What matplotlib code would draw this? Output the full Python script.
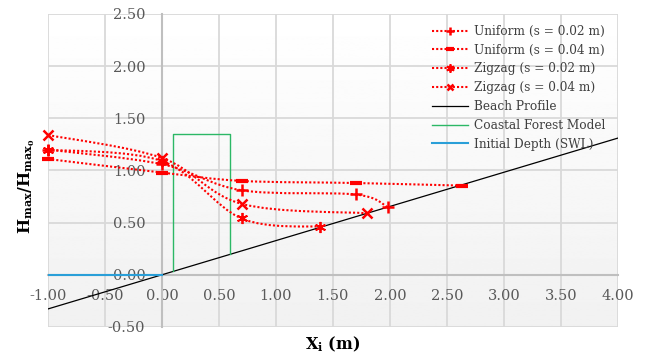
import numpy as np
import matplotlib
matplotlib.use("Agg")
import matplotlib.pyplot as plt
from matplotlib.path import Path
from matplotlib.patches import PathPatch
from matplotlib.lines import Line2D

plt.rcParams['font.family'] = ['DejaVu Serif']
plt.rcParams['mathtext.fontset'] = 'custom'
plt.rcParams['mathtext.rm'] = 'DejaVu Serif'
plt.rcParams['mathtext.it'] = 'DejaVu Serif'
plt.rcParams['mathtext.bf'] = 'DejaVu Serif:bold'

# measured points
uni02_x = [-1.0, 0.0, 0.7, 1.7, 1.98]
uni02_y = [1.20, 1.06, 0.81, 0.77, 0.65]
uni04_x = [-1.0, 0.0, 0.7, 1.7, 2.63]
uni04_y = [1.11, 0.98, 0.90, 0.88, 0.855]
zig02_x = [-1.0, 0.0, 0.7, 1.39]
zig02_y = [1.20, 1.09, 0.54, 0.46]
zig04_x = [-1.0, 0.0, 0.7, 1.80]
zig04_y = [1.34, 1.12, 0.68, 0.59]

beach_x = [-1.0, 4.0]
beach_y = [-0.327, 1.31]
forest_x = [0.1, 0.1, 0.6, 0.6]
forest_y = [0.033, 1.35, 1.35, 0.2]
swl_x = [-1.0, 0.0]
swl_y = [0.0, 0.0]

# name, x, y, marker, size, edge width
series = [
    ("Uniform (s = 0.02 m)", uni02_x, uni02_y, '+', 8, 1.8),
    ("Uniform (s = 0.04 m)", uni04_x, uni04_y, '_', 8, 3.0),
    ("Zigzag (s = 0.02 m)", zig02_x, zig02_y, (6, 2, 0), 8, 1.3),
    ("Zigzag (s = 0.04 m)", zig04_x, zig04_y, 'x', 7, 1.8),
]


def smooth_path(xs, ys):
    # excel style smoothed line as cubic bezier segments
    p = np.column_stack([xs, ys])
    n = len(p)
    verts = [p[0]]
    codes = [Path.MOVETO]
    for i in range(n - 1):
        p0 = p[i - 1] if i > 0 else p[i]
        p3 = p[i + 2] if i + 2 < n else p[i + 1]
        c1 = p[i] + (p[i + 1] - p0) / 6
        c2 = p[i + 1] - (p3 - p[i]) / 6
        verts += [c1, c2, p[i + 1]]
        codes += [Path.CURVE4] * 3
    return Path(verts, codes)


fig = plt.figure(figsize=(6.53, 3.54), dpi=100)
ax = fig.add_axes([0.0735, 0.0763, 0.8725, 0.8842])

grad = np.linspace(1.0, 0.945, 256).reshape(-1, 1)
ax.imshow(grad, extent=[0, 1, 0, 1], transform=ax.transAxes, cmap='gray',
          vmin=0, vmax=1, aspect='auto', zorder=0)

ax.set_xlim(-1, 4)
ax.set_ylim(-0.5, 2.5)
ax.set_xticks(np.arange(-1, 4.01, 0.5))
ax.set_yticks(np.arange(-0.5, 2.51, 0.5))
ax.xaxis.set_major_formatter(lambda v, p: f"{v:.2f}")
ax.yaxis.set_major_formatter(lambda v, p: f"{v:.2f}")
ax.grid(True, color='#d9d9d9', linewidth=1.3, zorder=1)
ax.set_axisbelow(True)

for s in ['top', 'right']:
    ax.spines[s].set_visible(False)
ax.spines['left'].set_position(('data', 0))
ax.spines['bottom'].set_position(('data', 0))
for s in ['left', 'bottom']:
    ax.spines[s].set_color('#bfbfbf')
    ax.spines[s].set_linewidth(1.5)
    ax.spines[s].set_zorder(1.5)
ax.tick_params(length=0, labelsize=10.5, labelcolor='#595959')
ax.tick_params(axis='y', pad=12)
ax.tick_params(axis='x', pad=10)

ax.plot(beach_x, beach_y, color='black', linewidth=0.9, zorder=3, label="Beach Profile")
ax.plot(forest_x, forest_y, color='#2cb866', linewidth=1.0, zorder=3, label="Coastal Forest Model")
ax.plot(swl_x, swl_y, color='#2a9fd8', linewidth=1.5, zorder=3, label="Initial Depth (SWL)")

handles = []
for name, xs, ys, mk, ms, mew in series:
    patch = PathPatch(smooth_path(xs, ys), facecolor='none', edgecolor='red',
                      linewidth=1.5, linestyle=(0, (1, 1)), zorder=4)
    ax.add_patch(patch)
    ax.plot(xs, ys, linestyle='none', marker=mk, markersize=ms, color='red',
            markeredgewidth=mew, zorder=5, clip_on=False)
    handles.append(Line2D([], [], color='red', linestyle=(0, (1, 1)), linewidth=1.5,
                          marker=mk, markersize=ms - 2, markeredgewidth=mew, label=name))

lh, ll = ax.get_legend_handles_labels()
leg = ax.legend(handles + lh, [h.get_label() for h in handles] + ll,
                loc='upper left', bbox_to_anchor=(0.655, 1.0), frameon=False,
                fontsize=8.7, labelspacing=0.48, handlelength=3.0, handletextpad=0.5,
                labelcolor='#404040')

ax.set_xlabel(r"X$_\mathregular{i}$ (m)", fontsize=11.5, fontweight='bold')
ax.xaxis.set_label_coords(0.5, -0.025)
ax.set_ylabel(r"H$_\mathregular{max}$/H$_{\mathregular{max}_\mathregular{0}}$", fontsize=11.5,
              fontweight='bold')
ax.yaxis.set_label_coords(-0.02, 0.45)

fig.savefig("out.png", dpi=100)
